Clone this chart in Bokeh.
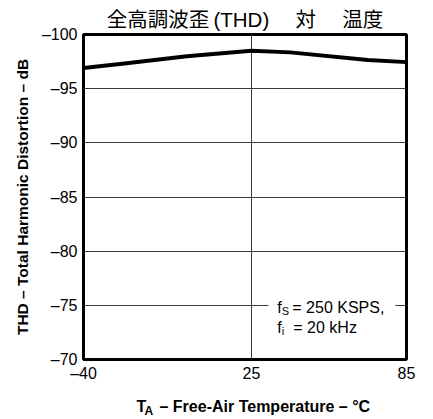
from bokeh.plotting import figure
from bokeh.layouts import column
from bokeh.models import Range1d, FixedTicker, Label, BoxAnnotation
from bokeh.embed import file_html
from bokeh.resources import INLINE

# THD vs free-air temperature
temperature_c = [-40, -25, 0, 25, 40, 70, 85]
thd_db = [-96.9, -97.3, -98.0, -98.5, -98.35, -97.65, -97.45]

x_ticks = [-40, 25, 85]
y_ticks = [-100, -95, -90, -85, -80, -75, -70]
x_tick_labels = {-40: "\u201340", 25: "25", 85: "85"}
y_tick_labels = {-100: "\u2013100", -95: "\u201395", -90: "\u201390", -85: "\u201385",
                 -80: "\u201380", -75: "\u201375", -70: "\u201370"}

FONT = "Liberation Sans"
TITLE_FONT = "Liberation Sans, Noto Sans CJK JP"
X0 = -40  # left edge of the plot frame, used as the anchor for strip texts


def put(fig, text, x, y, size, dx=0, dy=0, style="normal", font=FONT, baseline="alphabetic"):
    fig.add_layout(Label(x=x, y=y, x_offset=dx, y_offset=dy, text=text,
                         text_font=font, text_font_size=size, text_font_style=style,
                         text_color="black", text_align="left", text_baseline=baseline))


# main plot
p = figure(width=433, height=385, output_backend="svg", toolbar_location=None,
           x_range=Range1d(-40, 85), y_range=Range1d(-70, -100),
           min_border_left=83, min_border_right=27, min_border_top=34, min_border_bottom=26)
p.background_fill_color = "white"
p.border_fill_color = "white"
p.outline_line_color = "black"
p.outline_line_width = 3

p.title.text = "全高調波歪\u2009(THD) \u3000対\u3000 温度"
p.title.text_font = TITLE_FONT
p.title.text_font_size = "20.5px"
p.title.text_font_style = "normal"
p.title.text_color = "black"
p.title.align = "center"
p.title.offset = 8
p.title.standoff = 7

p.xaxis.ticker = FixedTicker(ticks=x_ticks)
p.yaxis.ticker = FixedTicker(ticks=y_ticks)
p.xaxis.major_label_overrides = x_tick_labels
p.yaxis.major_label_overrides = y_tick_labels
p.xgrid.ticker = FixedTicker(ticks=[25])
for ax in (p.xaxis, p.yaxis):
    ax.axis_line_color = None
    ax.major_tick_line_color = None
    ax.minor_tick_line_color = None
    ax.major_tick_out = 0
    ax.major_tick_in = 0
    ax.major_label_text_font = FONT
    ax.major_label_text_font_size = "16px"
    ax.major_label_text_color = "black"
p.xaxis.major_label_standoff = 5
p.yaxis.major_label_standoff = 6

p.yaxis.axis_label = "THD \u2013 Total Harmonic Distortion \u2013 dB"
p.yaxis.axis_label_text_font = FONT
p.yaxis.axis_label_text_font_style = "bold"
p.yaxis.axis_label_text_font_size = "15.5px"
p.yaxis.axis_label_text_color = "black"
p.yaxis.axis_label_standoff = 8

for g in (p.xgrid, p.ygrid):
    g.grid_line_color = "#3a3a3a"
    g.grid_line_width = 1

p.line(temperature_c, thd_db, line_color="black", line_width=4, line_join="round")

# Condition note, on a white patch that interrupts the -75 dB grid line
p.add_layout(BoxAnnotation(left=31.6, right=80.7, top=-75.6, bottom=-74.4,
                           fill_color="white", fill_alpha=1, line_color=None))
put(p, "f", 35, -74.8, "16px")
put(p, "S", 35, -74.8, "11px", dx=4.5, dy=-3)
put(p, "= 250 KSPS,", 35, -74.8, "16px", dx=15)
put(p, "f", 35, -72.95, "16px")
put(p, "i", 35, -72.95, "11px", dx=4.5, dy=-3)
put(p, "= 20 kHz", 35, -72.95, "16px", dx=16)

# x-axis title with subscript, in a text-only strip whose frame lines up with the plot's
bottom = figure(width=433, height=34, output_backend="svg", toolbar_location=None,
                x_range=Range1d(-40, 85), y_range=Range1d(34, 0),
                x_axis_location=None, y_axis_location=None,
                min_border_top=0, min_border_bottom=0)
bottom.outline_line_color = None
bottom.grid.visible = False
bottom.background_fill_color = "white"
bottom.border_fill_color = "white"
put(bottom, "T", X0, 20.5, "16px", dx=136 - 83, style="bold")
put(bottom, "A", X0, 25, "12px", dx=144 - 83, style="bold")
put(bottom, "\u2013 Free-Air Temperature \u2013 \u00b0C", X0, 20.5, "16px", dx=159 - 83, style="bold")

layout = column(p, bottom, spacing=0)
open("out.html", "w").write(file_html(layout, INLINE))
